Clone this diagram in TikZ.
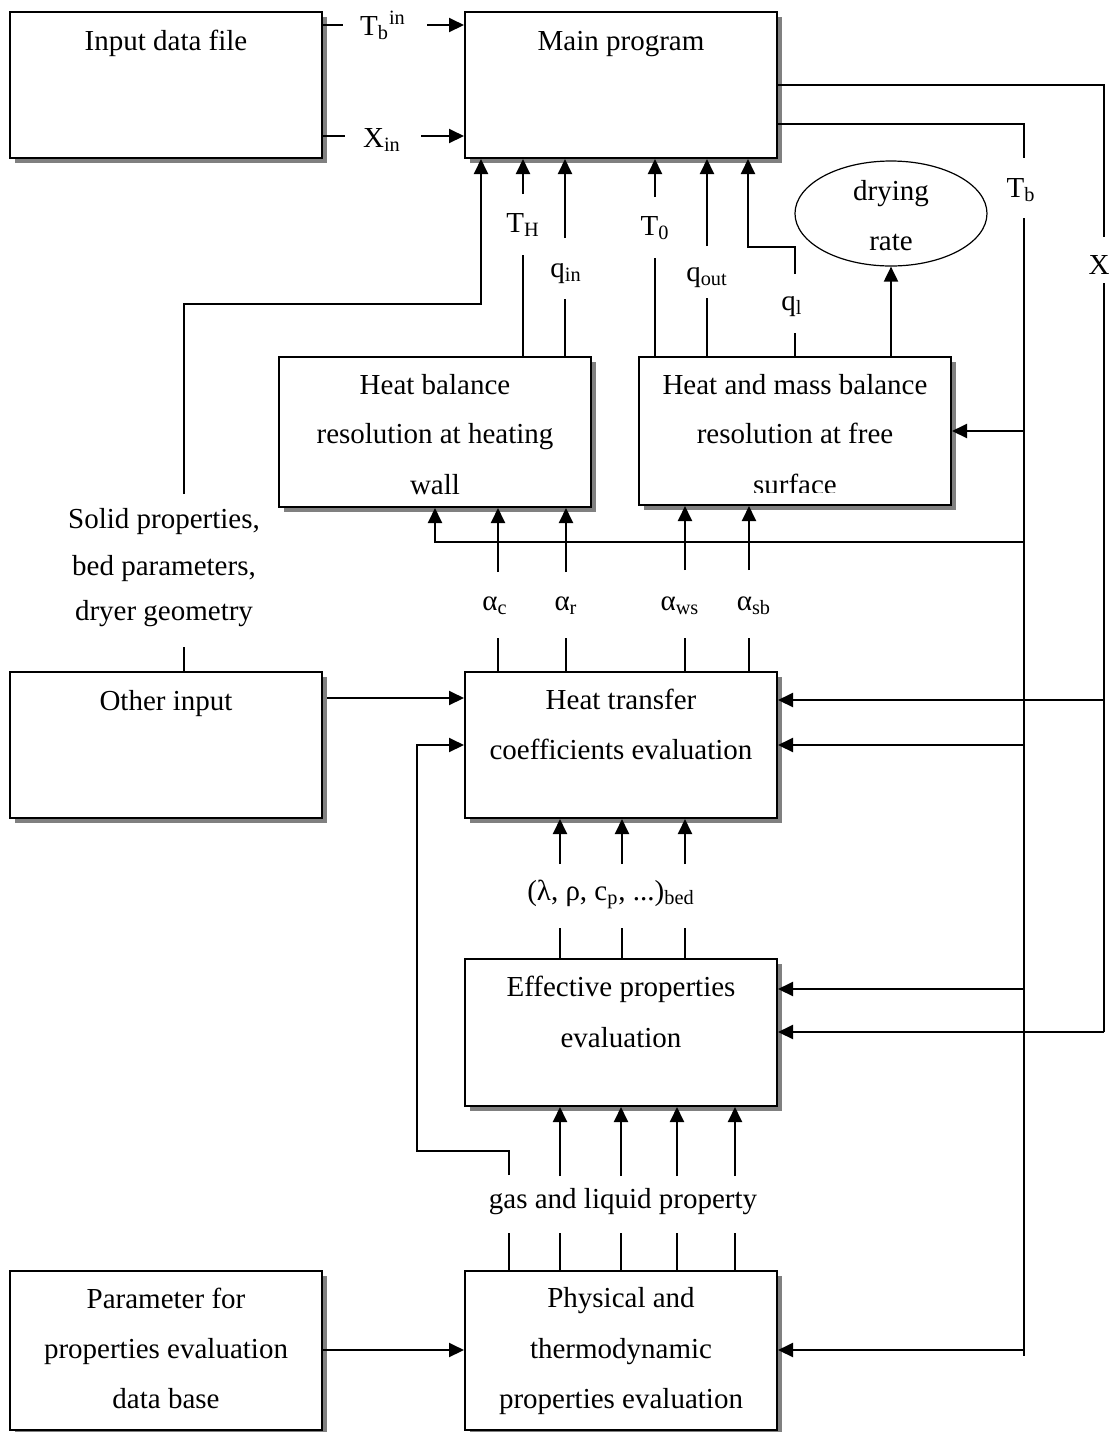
\documentclass[tikz,border=0pt]{standalone}
\usepackage{fontspec}
\setmainfont{Liberation Serif}
\usetikzlibrary{arrows.meta,shapes.geometric,shadows}
\begin{document}
\begin{tikzpicture}[x=0.5pt,y=-0.5pt,
  font=\fontsize{14.5}{17}\selectfont,
  box/.style={draw, line width=1pt, fill=white, inner sep=0pt, minimum width=156pt,
    drop shadow={shadow xshift=2.5pt, shadow yshift=-2.5pt, fill=gray, opacity=1}},
  txt/.style={anchor=base, inner sep=0pt},
  wire/.style={line width=1pt},
  feed/.style={line width=0.75pt},
  arr/.style={line width=1pt, -{Triangle[length=7.5pt,width=7pt]}},
]
\useasboundingbox (0,0) rectangle (1111,1432);

% ---------- blocks ----------
\node[box, minimum height=73pt]   (inp)  at (166,85)     {};
\node[box, minimum height=73pt]   (main) at (621,85)     {};
\node[box, minimum height=75pt]   (hb)   at (435,432)    {};
\node[box, minimum height=74pt]   (hm)   at (795,431)    {};
\node[box, minimum height=73pt]   (oth)  at (166,745)    {};
\node[box, minimum height=73pt]   (ht)   at (621,745)    {};
\node[box, minimum height=73.5pt] (eff)  at (621,1032.5) {};
\node[box, minimum height=79.5pt] (par)  at (166,1350.5) {};
\node[box, minimum height=79.5pt] (phy)  at (621,1350.5) {};
\node[draw, ellipse, line width=0.6pt, inner sep=0pt,
      minimum width=96pt, minimum height=52.5pt] (dry) at (891,213.5) {};

% ---------- block texts ----------
\node[txt] (tinp) at (166,50) {Input data file};
\node[txt] (tmain) at (621,50) {Main program};
\node[txt] (thb1) at (435,394) {Heat balance};
\node[txt] (thb2) at (435,443) {resolution at heating};
\node[txt] (thb3) at (435,494) {wall};
\node[txt] (thm1) at (795,394) {Heat and mass balance};
\node[txt] (thm2) at (795,443) {resolution at free};
\begin{scope}
  \clip (639,357) rectangle (951,492);
  \node[txt] (thm3) at (795,494) {surface};
\end{scope}
\node[txt] (tdry1) at (891,200) {drying};
\node[txt] (tdry2) at (891,250) {rate};
\node[txt] (toth) at (166,710) {Other input};
\node[txt] (tht1) at (621,709) {Heat transfer};
\node[txt] (tht2) at (621,759) {coefficients evaluation};
\node[txt] (teff1) at (621,996) {Effective properties};
\node[txt] (teff2) at (621,1047) {evaluation};
\node[txt] (tpar1) at (166,1308) {Parameter for};
\node[txt] (tpar2) at (166,1358) {properties evaluation};
\node[txt] (tpar3) at (166,1408) {data base};
\node[txt] (tphy1) at (621,1307) {Physical and};
\node[txt] (tphy2) at (621,1358) {thermodynamic};
\node[txt] (tphy3) at (621,1408) {properties evaluation};
\node[txt] (sp1) at (164,528) {Solid properties,};
\node[txt] (sp2) at (164,575) {bed parameters,};
\node[txt] (sp3) at (164,620) {dryer geometry};

% ---------- signal labels ----------
\node[txt] (lTbin) at (383,35)  {T\textsubscript{b}\textsuperscript{in}};
\node[txt] (lXin)  at (382,147) {X\textsubscript{in}};
\node[txt] (lTH)   at (523,232) {T\textsubscript{H}};
\node[txt] (lqin)  at (566,277) {q\textsubscript{in}};
\node[txt] (lT0)   at (655,235) {T\textsubscript{0}};
\node[txt] (lqout) at (707,281) {q\textsubscript{out}};
\node[txt] (lql)   at (792,310) {q\textsubscript{l}};
\node[txt] (lTb)   at (1021,197) {T\textsubscript{b}};
\node[txt] (lX)    at (1099,274) {X};
\node[txt] (lac)   at (495,610) {α\textsubscript{c}};
\node[txt] (lar)   at (566,610) {α\textsubscript{r}};
\node[txt] (laws)  at (680,610) {α\textsubscript{ws}};
\node[txt] (lasb)  at (754,610) {α\textsubscript{sb}};
\node[txt] (lbed)  at (611,900) {(λ, ρ, c\textsubscript{p}, ...)\textsubscript{bed}};
\node[txt] (lgas)  at (623,1208) {gas and liquid property};

% ---------- input data to main program ----------
\draw[wire] (inp.east |- 0,25) -- (343,25);
\draw[arr] (427,25) -- (main.west |- 0,25);
\draw[wire] (inp.east |- 0,136) -- (345,136);
\draw[arr] (421,136) -- (main.west |- 0,136);

% ---------- moisture content X ----------
\draw[wire] (main.east |- 0,85) -- (1104,85) -- (1104,237);
\draw[wire] (1104,283) -- (1104,1032);
\draw[arr] (1104,700) -- (ht.east |- 0,700);
\draw[arr] (1104,1032) -- (eff.east |- 0,1032);

% ---------- bed temperature T_b ----------
\draw[feed] (main.east |- 0,124) -- (1024,124) -- (1024,158);
\draw[feed] (1024,218) -- (1024,1356);
\draw[arr] (1024,431) -- (hm.east |- 0,431);
\draw[arr] (1024,542) -- (435,542) -- (435,0 |- hb.south);
\draw[arr] (1024,745) -- (ht.east |- 0,745);
\draw[arr] (1024,989) -- (eff.east |- 0,989);
\draw[arr] (1024,1350) -- (phy.east |- 0,1350);

% ---------- solid properties ----------
\draw[arr] (184,494) -- (184,304) -- (481,304) -- (481,0 |- main.south);
\draw[wire] (184,647) -- (184,0 |- oth.north);

% ---------- balances to main program ----------
\draw[arr] (523,194) -- (523,0 |- main.south);
\draw[wire] (523,255) -- (523,0 |- hb.north);
\draw[arr] (565,238) -- (565,0 |- main.south);
\draw[wire] (565,299) -- (565,0 |- hb.north);
\draw[arr] (655,197) -- (655,0 |- main.south);
\draw[wire] (655,258) -- (655,0 |- hm.north);
\draw[arr] (707,246) -- (707,0 |- main.south);
\draw[wire] (707,298) -- (707,0 |- hm.north);
\draw[wire] (795,0 |- hm.north) -- (795,333);
\draw[arr] (795,274) -- (795,247) -- (748,247) -- (748,0 |- main.south);
\draw[arr] (891,0 |- hm.north) -- (dry.south);

% ---------- heat transfer coefficients ----------
\foreach \x in {498,566} {
  \draw[arr] (\x,572) -- (\x,0 |- hb.south);
  \draw[wire] (\x,638) -- (\x,0 |- ht.north);
}
\foreach \x in {685,749} {
  \draw[arr] (\x,570) -- (\x,0 |- hm.south);
  \draw[wire] (\x,638) -- (\x,0 |- ht.north);
}
\draw[arr] (327,698) -- (ht.west |- 0,698);

% ---------- bed properties ----------
\foreach \x in {560,622,685} {
  \draw[arr] (\x,864) -- (\x,0 |- ht.south);
  \draw[wire] (\x,928) -- (\x,0 |- eff.north);
}

% ---------- gas and liquid properties ----------
\foreach \x in {560,621,677,735} {
  \draw[arr] (\x,1176) -- (\x,0 |- eff.south);
}
\foreach \x in {509,560,621,677,735} {
  \draw[wire] (\x,1233) -- (\x,0 |- phy.north);
}
\draw[arr] (509,1175) -- (509,1151) -- (417,1151) -- (417,745) -- (ht.west |- 0,745);

% ---------- property data base ----------
\draw[arr] (par.east |- 0,1350) -- (phy.west |- 0,1350);
\end{tikzpicture}
\end{document}
